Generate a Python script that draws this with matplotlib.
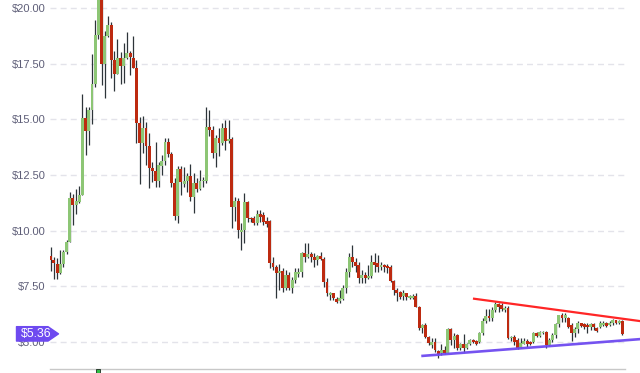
import numpy as np
import matplotlib
matplotlib.use("Agg")
from matplotlib import pyplot as plt
from matplotlib.patches import Polygon
from matplotlib.transforms import blended_transform_factory, ScaledTranslation

# daily OHLC
opens = [8.85, 8.70, 8.52, 8.10, 8.49, 9.03, 9.48, 11.45, 11.15, 11.30,
         11.62, 15.08, 14.48, 15.44, 16.61, 18.79, 20.60, 17.48, 18.74, 19.24,
         17.66, 17.06, 17.78, 17.42, 17.78, 17.99, 17.78, 17.33, 14.84, 13.96,
         14.63, 13.81, 12.83, 12.68, 12.25, 12.92, 13.13, 14.00, 13.43, 12.13,
         10.66, 12.78, 12.10, 12.22, 12.46, 11.53, 12.13, 11.86, 12.24, 12.23,
         14.68, 14.53, 13.48, 14.18, 13.93, 14.63, 14.05, 14.12, 11.05, 11.33,
         9.92, 10.03, 11.31, 10.56, 10.56, 10.36, 10.75, 10.71, 10.44, 10.44,
         8.53, 8.38, 8.08, 8.20, 7.41, 8.01, 7.41, 7.78, 8.04, 8.14,
         8.98, 8.83, 8.95, 8.83, 8.68, 8.86, 8.71, 7.71, 7.13, 7.19,
         6.93, 6.84, 6.91, 7.41, 8.16, 8.83, 8.61, 8.46, 7.86, 8.01,
         7.86, 7.96, 8.58, 8.53, 8.35, 8.46, 8.41, 8.38, 7.75, 7.33,
         7.23, 7.06, 7.18, 6.96, 6.96, 7.06, 6.58, 5.61, 5.76, 5.24,
         4.86, 5.01, 4.61, 4.49, 4.64, 4.49, 5.56, 5.08, 5.31, 4.71,
         4.89, 4.71, 4.89, 5.08, 5.04, 5.01, 5.38, 5.94, 6.18, 6.06,
         6.43, 6.70, 6.66, 6.43, 6.51, 5.16, 5.23, 5.08, 4.74, 4.89,
         5.04, 5.01, 5.01, 5.41, 5.26, 5.40, 5.46, 4.86, 5.08, 5.31,
         5.79, 6.21, 6.06, 6.06, 5.76, 5.41, 5.56, 5.84, 5.80, 5.76,
         5.68, 5.80, 5.64, 5.68, 5.76, 5.86, 5.76, 5.84, 5.98, 5.84,
         5.96]
highs = [9.27, 8.82, 8.75, 9.12, 9.12, 9.57, 11.72, 11.66, 11.89, 12.02,
         16.13, 15.56, 15.56, 17.93, 19.49, 21.00, 21.00, 19.00, 19.64, 19.37,
         18.08, 18.64, 18.04, 18.44, 18.94, 18.10, 18.74, 17.66, 15.10, 15.16,
         14.90, 14.38, 13.10, 14.00, 13.10, 13.40, 14.15, 14.15, 13.55, 12.35,
         12.90, 12.90, 12.88, 12.60, 13.00, 12.58, 12.35, 12.73, 12.43, 15.58,
         15.43, 14.71, 14.30, 14.60, 14.83, 14.98, 14.98, 14.23, 11.50, 11.45,
         10.33, 11.68, 11.35, 10.60, 10.66, 10.93, 10.93, 10.86, 10.63, 10.50,
         8.83, 8.46, 8.50, 8.31, 8.23, 8.16, 7.93, 8.31, 8.31, 9.06,
         9.43, 9.43, 9.06, 8.98, 8.91, 9.06, 8.83, 7.86, 7.26, 7.22,
         7.03, 7.33, 7.56, 8.31, 8.98, 9.36, 8.76, 8.61, 8.23, 8.16,
         8.46, 8.91, 8.98, 8.91, 8.61, 8.49, 8.50, 8.46, 7.78, 7.41,
         7.30, 7.33, 7.21, 7.11, 7.15, 7.18, 6.60, 5.80, 5.83, 5.27,
         5.16, 5.16, 4.64, 4.89, 4.82, 5.64, 5.64, 5.38, 5.34, 4.94,
         5.34, 4.94, 5.13, 5.11, 5.08, 5.43, 6.06, 6.48, 6.48, 6.58,
         6.81, 6.73, 6.73, 6.63, 6.63, 5.28, 5.31, 5.16, 5.16, 5.16,
         5.11, 5.04, 5.46, 5.46, 5.50, 5.50, 5.49, 5.16, 5.38, 5.84,
         6.21, 6.31, 6.30, 6.13, 5.84, 5.68, 5.96, 5.86, 5.84, 5.86,
         5.85, 5.86, 5.68, 5.92, 5.95, 5.90, 5.92, 6.03, 6.00, 6.00,
         6.00]
lows = [8.19, 7.84, 7.84, 8.07, 8.37, 8.97, 9.48, 10.24, 10.76, 11.24,
        11.60, 13.39, 13.84, 14.78, 16.46, 18.60, 16.54, 15.98, 18.70, 16.88,
        16.28, 17.06, 16.58, 16.64, 17.74, 16.99, 17.30, 13.94, 12.11, 13.48,
        12.95, 11.90, 12.20, 11.98, 11.95, 12.50, 12.95, 13.33, 11.98, 10.48,
        10.36, 11.60, 11.98, 11.75, 11.33, 10.78, 11.72, 11.83, 11.98, 12.16,
        14.27, 13.25, 12.88, 13.37, 13.85, 13.63, 13.93, 10.10, 10.43, 9.66,
        9.13, 9.46, 10.40, 10.40, 10.26, 10.26, 10.41, 10.26, 10.18, 8.31,
        8.23, 6.96, 7.33, 7.26, 7.33, 7.33, 7.22, 7.63, 7.93, 7.93,
        8.61, 8.76, 8.61, 8.35, 8.46, 8.68, 7.48, 7.06, 6.88, 6.88,
        6.73, 6.76, 6.88, 7.18, 7.90, 8.38, 8.16, 7.63, 7.63, 7.63,
        7.81, 7.86, 8.16, 8.16, 8.23, 8.16, 8.11, 7.71, 7.11, 6.85,
        6.91, 6.88, 6.88, 6.93, 6.93, 6.58, 5.53, 5.42, 5.19, 4.86,
        4.71, 4.56, 4.26, 4.41, 4.44, 4.49, 4.86, 4.71, 4.64, 4.64,
        4.56, 4.67, 4.86, 4.93, 4.86, 4.93, 5.31, 5.83, 5.94, 5.94,
        6.36, 6.36, 6.39, 6.33, 5.13, 5.04, 4.86, 4.68, 4.71, 4.89,
        4.78, 4.86, 4.94, 5.20, 5.20, 5.35, 4.71, 4.83, 5.01, 5.16,
        5.68, 5.91, 5.90, 5.61, 5.06, 5.24, 5.38, 5.65, 5.60, 5.38,
        5.55, 5.55, 5.46, 5.62, 5.72, 5.66, 5.70, 5.78, 5.80, 5.80,
        5.31]
closes = [8.70, 8.55, 8.10, 8.49, 9.03, 9.48, 11.45, 11.15, 11.33, 11.62,
          15.08, 14.48, 15.44, 16.61, 18.79, 20.60, 17.48, 18.74, 19.24, 17.66,
          17.06, 17.78, 17.42, 17.78, 17.99, 17.81, 17.33, 14.84, 13.94, 14.63,
          13.81, 12.83, 12.68, 12.25, 12.95, 13.13, 14.00, 13.43, 12.13, 10.66,
          12.78, 12.20, 12.25, 12.46, 11.53, 12.13, 11.86, 12.23, 12.26, 14.68,
          14.53, 13.48, 14.18, 13.93, 14.63, 14.05, 14.12, 11.05, 11.33, 10.03,
          10.03, 11.31, 10.56, 10.52, 10.36, 10.75, 10.63, 10.41, 10.30, 8.56,
          8.35, 8.08, 8.20, 7.41, 8.01, 7.41, 7.78, 8.14, 8.14, 8.98,
          8.83, 8.95, 8.83, 8.68, 8.86, 8.71, 7.71, 7.19, 7.19, 6.98,
          6.81, 6.96, 7.41, 8.16, 8.83, 8.61, 8.41, 7.86, 8.01, 7.86,
          7.96, 8.58, 8.46, 8.35, 8.46, 8.35, 8.31, 7.75, 7.33, 7.21,
          7.03, 7.18, 7.00, 7.06, 7.06, 6.58, 5.61, 5.76, 5.24, 4.97,
          5.01, 4.62, 4.46, 4.64, 4.49, 5.56, 5.08, 5.28, 4.71, 4.89,
          4.71, 4.89, 5.08, 4.98, 4.91, 5.38, 5.94, 6.18, 6.06, 6.43,
          6.70, 6.58, 6.48, 6.54, 5.16, 5.23, 5.01, 4.71, 4.94, 5.04,
          4.89, 4.89, 5.41, 5.26, 5.46, 5.46, 4.86, 5.08, 5.31, 5.79,
          6.21, 6.06, 6.21, 5.68, 5.41, 5.56, 5.84, 5.71, 5.68, 5.68,
          5.80, 5.66, 5.51, 5.86, 5.86, 5.71, 5.86, 5.98, 5.84, 5.96,
          5.36]

yticks = [5.0, 7.5, 10.0, 12.5, 15.0, 17.5, 20.0]
last_price = 5.36

# trendlines: (candle index, price) end points
resistance = ([133.3, 185.3], [6.94, 5.94])
support = ([117.1, 185.3], [4.37, 5.12])
marker_idx = 15

up_col = '#8dc675'
down_col = '#bd2a10'
wick_col = '#2d3439'
purple = '#6e4af0'

plt.rcParams['font.family'] = ['Liberation Sans', 'DejaVu Sans']

fig = plt.figure(figsize=(6.4, 3.73), dpi=100)
ax = fig.add_axes([50 / 640, 4 / 373, 575 / 640, 369 / 373])

o = np.array(opens)
h = np.array(highs)
l = np.array(lows)
c = np.array(closes)
xs = np.arange(len(o))
up = c >= o
cols = np.where(up, up_col, down_col)

ax.vlines(xs, l, h, color=wick_col, linewidth=0.9, zorder=2)
bottoms = np.minimum(o, c)
heights = np.maximum(np.abs(c - o), 0.04)
ax.bar(xs, heights, bottom=bottoms, width=0.92, color=cols, linewidth=0, zorder=3)

ax.plot(*resistance, color='#ff1a1a', linewidth=1.6, clip_on=False, zorder=4, alpha=0.95)
ax.plot(*support, color=purple, linewidth=1.9, clip_on=False, zorder=4, alpha=0.95)

ax.set_xlim(-0.22, 180.83)
ax.set_ylim(3.78, 20.373)

for y in yticks:
    ax.axhline(y, color='#e3e3ea', linewidth=1.0, linestyle=(0, (4.3, 3.0)), zorder=1)

ax.set_yticks(yticks)
ax.set_yticklabels([f'${v:.2f}' for v in yticks])
ax.tick_params(axis='y', length=0, pad=3, labelsize=8.0, labelcolor='#5e5e78')
ax.set_xticks([])
for s in ['top', 'right', 'left']:
    ax.spines[s].set_visible(False)
ax.spines['bottom'].set_color('#c8c8c8')
ax.spines['bottom'].set_linewidth(1.0)

# small event marker under the axis
mtrans = blended_transform_factory(ax.transData, ax.transAxes)
ax.plot([marker_idx], [-0.006], marker='s', markersize=2.6, mfc='#2fbf45',
        mec='#1e2a22', mew=0.6, transform=mtrans, clip_on=False, zorder=5)

# last price tag
base = blended_transform_factory(ax.transAxes, ax.transData)
tag = fig.dpi_scale_trans + ScaledTranslation(0, last_price, base)
verts = [(-0.335, 0.072), (-0.02, 0.072), (0.085, 0.0), (-0.02, -0.072), (-0.335, -0.072)]
ax.add_patch(Polygon(verts, closed=True, transform=tag, facecolor=purple,
                     edgecolor=purple, linewidth=1.0, joinstyle='round',
                     clip_on=False, zorder=10))
ax.text(-0.135, -0.003, f'${last_price:.2f}', transform=tag, color='white',
        fontsize=8.8, ha='center', va='center', zorder=11, clip_on=False)

fig.savefig('out.png', dpi=100)
